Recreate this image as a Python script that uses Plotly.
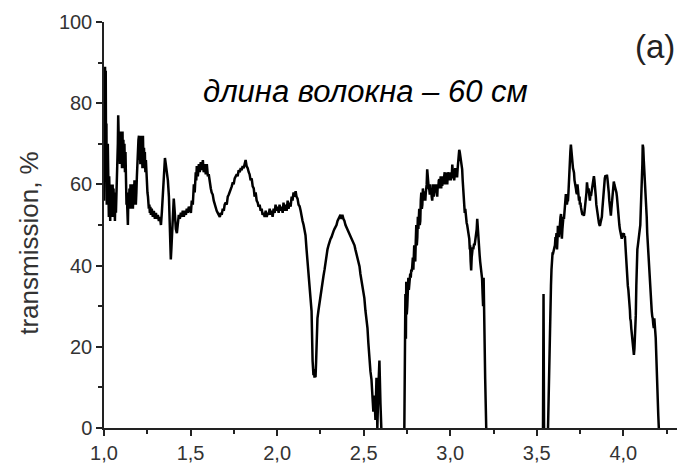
import plotly.graph_objects as go

# Transmission spectrum of a 60 cm fibre, split into the bands where the
# signal is above zero. Energy in eV, transmission in %.
band1_energy = [
    1.000, 1.002, 1.004, 1.006, 1.008, 1.010, 1.012, 1.014, 1.016, 1.018,
    1.020, 1.022, 1.024, 1.026, 1.028, 1.030, 1.032, 1.034, 1.036, 1.038,
    1.040, 1.042, 1.044, 1.046, 1.048, 1.050, 1.052, 1.055, 1.058, 1.060,
    1.063, 1.066, 1.069, 1.072, 1.075, 1.078, 1.080, 1.082, 1.084, 1.086,
    1.088, 1.090, 1.092, 1.095, 1.098, 1.101, 1.104, 1.107, 1.109, 1.112,
    1.115, 1.118, 1.121, 1.124, 1.127, 1.130, 1.133, 1.136, 1.138, 1.141,
    1.144, 1.147, 1.150, 1.153, 1.156, 1.159, 1.161, 1.164, 1.167, 1.170,
    1.173, 1.176, 1.179, 1.182, 1.184, 1.187, 1.190, 1.193, 1.196, 1.199,
    1.202, 1.204, 1.207, 1.210, 1.213, 1.216, 1.219, 1.222, 1.225, 1.228,
    1.231, 1.234, 1.236, 1.239, 1.242, 1.245, 1.248, 1.251, 1.254, 1.257,
    1.259, 1.262, 1.265, 1.268, 1.271, 1.276, 1.282, 1.288, 1.294, 1.300,
    1.305, 1.311, 1.317, 1.323, 1.329, 1.334, 1.340, 1.346, 1.352, 1.357,
    1.363, 1.369, 1.375, 1.380, 1.383, 1.386, 1.389, 1.392, 1.398, 1.403,
    1.409, 1.415, 1.421, 1.427, 1.432, 1.438, 1.444, 1.450, 1.455, 1.461,
    1.467, 1.473, 1.478, 1.484, 1.490, 1.496, 1.502, 1.507, 1.513, 1.519,
    1.524, 1.530, 1.533, 1.536, 1.542, 1.548, 1.553, 1.559, 1.565, 1.571,
    1.576, 1.582, 1.588, 1.594, 1.600, 1.605, 1.611, 1.617, 1.622, 1.628,
    1.634, 1.640, 1.646, 1.651, 1.657, 1.663, 1.669, 1.675, 1.680, 1.686,
    1.692, 1.697, 1.703, 1.709, 1.715, 1.721, 1.726, 1.732, 1.738, 1.744,
    1.749, 1.755, 1.761, 1.767, 1.772, 1.778, 1.784, 1.790, 1.795, 1.801,
    1.807, 1.813, 1.818, 1.824, 1.830, 1.836, 1.841, 1.847, 1.853, 1.859,
    1.865, 1.870, 1.876, 1.882, 1.888, 1.893, 1.899, 1.905, 1.911, 1.916,
    1.922, 1.928, 1.934, 1.940, 1.945, 1.951, 1.957, 1.963, 1.968, 1.974,
    1.980, 1.986, 1.991, 1.997, 2.003, 2.009, 2.014, 2.020, 2.026, 2.032,
    2.037, 2.043, 2.049, 2.055, 2.061, 2.066, 2.072, 2.078, 2.084, 2.089,
    2.095, 2.101, 2.107, 2.112, 2.118, 2.124, 2.130, 2.136, 2.141, 2.147,
    2.153, 2.159, 2.164, 2.170, 2.176, 2.182, 2.187, 2.193, 2.199, 2.205,
    2.210, 2.213, 2.216, 2.219, 2.222, 2.225, 2.228, 2.233, 2.239, 2.245,
    2.251, 2.256, 2.262, 2.268, 2.274, 2.280, 2.285, 2.291, 2.297, 2.303,
    2.308, 2.314, 2.320, 2.326, 2.331, 2.337, 2.343, 2.349, 2.354, 2.360,
    2.366, 2.372, 2.377, 2.383, 2.389, 2.395, 2.400, 2.406, 2.412, 2.418,
    2.424, 2.429, 2.435, 2.441, 2.447, 2.452, 2.458, 2.464, 2.470, 2.476,
    2.481, 2.487, 2.493, 2.499, 2.504, 2.510, 2.516, 2.522, 2.527, 2.533,
    2.539, 2.545, 2.550, 2.556, 2.562, 2.568, 2.574, 2.579, 2.585, 2.591,
    2.597, 2.602,
]
band1_transmission = [
    56, 72, 60, 89, 62, 88, 66, 75, 55, 75,
    58, 70, 54, 65, 52, 62, 55, 60, 51, 59,
    54, 60, 52, 58, 55, 60, 52, 59, 54, 58,
    51, 57, 53, 58, 56, 62, 70, 77, 68, 74,
    66, 72, 65, 73, 66, 72, 64, 73, 65, 71,
    64, 70, 63, 68, 60, 55, 56, 51, 50, 58,
    54, 59, 55, 60, 54, 59, 55, 60, 54, 58,
    56, 61, 55, 60, 55, 58, 62, 66, 68, 71,
    72, 66, 71, 65, 72, 66, 71, 64, 72, 65,
    69, 64, 68, 63, 66, 62, 63, 58, 57, 55,
    54, 55, 53, 54.5, 52.5, 54, 52, 53.5, 51.5, 53,
    51.5, 52.5, 51, 52, 50, 53, 58, 63, 66.5, 65,
    63, 61, 57, 48, 43, 41.5, 44, 47, 52, 56.5,
    53, 49, 48, 51, 52.5, 51.5, 53, 52, 53.5, 52,
    53.5, 52.5, 54, 53, 54.5, 54, 53, 56, 55, 60,
    58, 63, 61, 64.5, 62, 65, 63, 65.5, 63.5, 66,
    63, 65, 62.5, 65, 62, 62.5, 60, 59, 58, 57.5,
    56, 55, 54, 53.5, 53, 52.5, 52, 53, 52.5, 54,
    53.5, 55, 55.5, 55, 57, 57.5, 58, 59, 59.5, 60.5,
    60, 61.5, 62, 62.5, 62, 63.5, 63, 64, 63.5, 64.5,
    64, 65, 66, 64.5, 64, 63, 62.5, 61, 61.5, 59.5,
    59, 57, 58, 56, 55.5, 54.5, 55, 53.5, 54, 52.5,
    53, 52, 53.5, 52, 53, 52.5, 54, 52.5, 53.5, 52,
    54, 53, 55, 53.5, 54.5, 53, 55, 53.5, 54.5, 53,
    55.5, 53.5, 55, 53.5, 56, 54, 55.5, 54.5, 57, 56,
    58, 57, 58.3, 57, 56.5, 55, 54.6, 53.5, 52, 51,
    50, 49, 47.5, 44, 41, 38, 35, 32, 28.8, 16.5,
    13, 14.5, 12.4, 14, 12.5, 16, 20, 27, 29, 31,
    32.5, 34, 36, 37.5, 39, 41, 42.5, 44, 45, 46,
    46.5, 47, 48, 48.5, 49, 49.5, 50, 51, 51.5, 52,
    52.5, 51.5, 52.5, 51.5, 51, 50, 49.5, 49, 48.5, 47.8,
    47, 46.5, 46, 45.5, 45, 44, 43, 42, 41, 39.8,
    38, 36.5, 35, 33.5, 32, 29, 27, 24.6, 21, 17,
    14, 12, 9, 4, 8, 2, 12.4, 0, 10, 16.6,
    6, 0,
]

band2_energy = [
    2.735, 2.738, 2.741, 2.744, 2.746, 2.749, 2.752, 2.755, 2.758, 2.761,
    2.764, 2.767, 2.769, 2.772, 2.775, 2.778, 2.781, 2.784, 2.787, 2.790,
    2.792, 2.795, 2.798, 2.801, 2.804, 2.807, 2.810, 2.813, 2.816, 2.818,
    2.821, 2.824, 2.827, 2.830, 2.833, 2.836, 2.839, 2.842, 2.844, 2.847,
    2.850, 2.853, 2.856, 2.859, 2.862, 2.864, 2.867, 2.870, 2.873, 2.876,
    2.879, 2.882, 2.885, 2.887, 2.890, 2.893, 2.896, 2.899, 2.902, 2.905,
    2.908, 2.911, 2.913, 2.916, 2.919, 2.922, 2.925, 2.928, 2.931, 2.934,
    2.937, 2.940, 2.942, 2.945, 2.948, 2.951, 2.954, 2.957, 2.960, 2.963,
    2.965, 2.968, 2.971, 2.974, 2.977, 2.980, 2.983, 2.986, 2.988, 2.991,
    2.994, 2.997, 3.000, 3.003, 3.006, 3.009, 3.012, 3.014, 3.017, 3.020,
    3.023, 3.026, 3.029, 3.032, 3.035, 3.038, 3.040, 3.043, 3.046, 3.049,
    3.052, 3.055, 3.058, 3.061, 3.064, 3.066, 3.069, 3.072, 3.075, 3.078,
    3.081, 3.084, 3.087, 3.090, 3.092, 3.095, 3.098, 3.101, 3.104, 3.107,
    3.110, 3.113, 3.115, 3.118, 3.121, 3.124, 3.127, 3.130, 3.133, 3.136,
    3.138, 3.141, 3.144, 3.147, 3.150, 3.153, 3.156, 3.159, 3.161, 3.164,
    3.167, 3.170, 3.173, 3.176, 3.179, 3.182, 3.184, 3.187, 3.190, 3.193,
    3.196, 3.199, 3.202, 3.205, 3.208,
]
band2_transmission = [
    0, 16.6, 33, 22, 36, 28, 30, 35, 37, 34,
    36.3, 38, 38, 37, 39, 38.5, 40, 42, 39, 43,
    45, 42, 41, 46, 50, 45, 47, 52, 49, 51,
    54, 50, 51, 56, 58, 54, 55, 59, 57, 56,
    58.3, 57, 56, 58, 59, 60, 63.7, 61, 60, 59,
    58.8, 57.5, 60, 58, 59, 57, 56, 58, 60, 57,
    58, 60, 58, 60, 59.3, 58, 57, 60, 59, 61,
    61.2, 59, 60, 62, 59, 61, 59.6, 62, 60, 61,
    61, 63, 60, 62, 62.9, 61, 60, 63, 62, 61,
    61, 63, 62, 61, 63, 62, 64.9, 63, 61.5, 62,
    61, 62.5, 64, 62, 63, 62, 62, 64, 66, 67.5,
    68.5, 68, 67, 66, 65, 64.5, 63.7, 61, 59, 57,
    54.7, 53, 54, 52, 52.3, 50.5, 50, 49, 48, 47.5,
    46.6, 44, 45, 41, 38.8, 42, 43, 44.5, 44, 45,
    45.4, 45, 46, 46.5, 47, 49, 51.5, 49, 48, 46,
    44, 42.5, 41, 39.5, 38, 37, 36.8, 33, 30, 37,
    23, 28, 12, 6, 0,
]

band3_energy = [3.536, 3.539, 3.542]
band3_transmission = [0, 33, 0]

band4_energy = [
    3.565, 3.568, 3.571, 3.574, 3.576, 3.579, 3.582, 3.585, 3.588, 3.591,
    3.594, 3.597, 3.599, 3.602, 3.605, 3.608, 3.611, 3.614, 3.617, 3.620,
    3.622, 3.625, 3.628, 3.631, 3.634, 3.637, 3.640, 3.643, 3.645, 3.648,
    3.651, 3.654, 3.657, 3.660, 3.663, 3.665, 3.668, 3.671, 3.674, 3.677,
    3.680, 3.683, 3.686, 3.689, 3.692, 3.694, 3.697, 3.700, 3.703, 3.706,
    3.709, 3.712, 3.715, 3.718, 3.720, 3.723, 3.726, 3.729, 3.732, 3.735,
    3.738, 3.741, 3.744, 3.747, 3.749, 3.752, 3.755, 3.758, 3.761, 3.764,
    3.767, 3.770, 3.772, 3.775, 3.778, 3.781, 3.784, 3.787, 3.790, 3.793,
    3.796, 3.799, 3.801, 3.804, 3.807, 3.810, 3.813, 3.816, 3.819, 3.822,
    3.824, 3.827, 3.830, 3.833, 3.836, 3.839, 3.841, 3.844, 3.847, 3.850,
    3.853, 3.856, 3.859, 3.862, 3.865, 3.868, 3.870, 3.873, 3.876, 3.879,
    3.882, 3.885, 3.888, 3.891, 3.893, 3.896, 3.899, 3.902, 3.905, 3.908,
    3.911, 3.914, 3.916, 3.919, 3.922, 3.925, 3.928, 3.931, 3.934, 3.937,
    3.940, 3.942, 3.945, 3.948, 3.951, 3.954, 3.957, 3.960, 3.963, 3.966,
    3.968, 3.971, 3.974, 3.977, 3.980, 3.983, 3.986, 3.989, 3.991, 3.994,
    3.997, 4.000, 4.003, 4.006, 4.009, 4.012, 4.014, 4.017, 4.020, 4.023,
    4.026, 4.029, 4.032, 4.035, 4.038, 4.040, 4.043, 4.046, 4.049, 4.052,
    4.055, 4.058, 4.061, 4.064, 4.066, 4.069, 4.072, 4.075, 4.078, 4.081,
    4.084, 4.087, 4.089, 4.092, 4.095, 4.098, 4.101, 4.104, 4.107, 4.110,
    4.112, 4.115, 4.118, 4.121, 4.124, 4.127, 4.130, 4.133, 4.135, 4.138,
    4.141, 4.144, 4.147, 4.150, 4.153, 4.156, 4.159, 4.161, 4.164, 4.167,
    4.170, 4.173, 4.176, 4.179, 4.182, 4.184, 4.187, 4.190, 4.193, 4.196,
    4.199, 4.202, 4.205,
]
band4_transmission = [
    0, 8, 15, 24, 30, 33, 35, 39, 42.5, 43,
    43, 44, 43.4, 44.5, 45, 47, 46.6, 48, 44, 47,
    49.8, 49, 47, 50, 51, 52, 52.7, 50, 46.6, 49,
    50, 52, 51.5, 54, 56, 57, 57.6, 56, 55, 56,
    55.9, 58, 62, 64, 66, 68, 69.8, 68, 66, 65,
    64, 63.5, 62.9, 61, 60, 60.5, 59, 58, 57.6, 60,
    59, 58, 56, 57, 55, 55.5, 54.4, 54, 53, 52.5,
    53, 52.5, 52.3, 53, 54, 55, 56, 58, 60.5, 59,
    58, 59, 58, 57, 56, 57.5, 57.1, 58, 59, 60,
    60, 61, 62, 61, 60, 58, 57, 55, 53.9, 53,
    52, 51, 50.5, 50, 49.8, 50.5, 51, 51.5, 52, 54,
    55.9, 58, 60.5, 61, 61.5, 62, 62, 61.5, 62.4, 61.5,
    60.5, 59.5, 58, 56, 54, 53, 52.3, 54, 56, 58,
    59, 60, 60.7, 60, 59.5, 59, 58.8, 58, 57, 55,
    54, 52.5, 51.5, 50, 49, 48.5, 48, 47, 46.6, 47.5,
    48, 47.5, 48, 47, 47.3, 45, 43, 40.5, 38.5, 36.5,
    35, 34, 32.7, 31.5, 29, 27, 26.3, 24.5, 23, 21,
    20, 19, 18, 19.5, 21, 24, 27.8, 35, 42.4, 44,
    45, 46, 47, 47.5, 48.2, 50, 54, 57, 61.2, 65,
    69.8, 69, 66, 63.5, 61.5, 60.5, 59.5, 56, 52, 48,
    45.5, 43, 41, 38.5, 36, 34.5, 33, 31, 28.8, 27.5,
    27, 25.5, 24.6, 27, 26, 24, 22.2, 17, 12.4, 9,
    6, 3, 0,
]

x_tick_values = [1.0, 1.5, 2.0, 2.5, 3.0, 3.5, 4.0]
y_tick_values = [0, 20, 40, 60, 80, 100]

bands = [
    (band1_energy, band1_transmission),
    (band2_energy, band2_transmission),
    (band3_energy, band3_transmission),
    (band4_energy, band4_transmission),
]

# Join the bands into one trace; None breaks the line where the signal is zero.
energy, transmission = [], []
for xs, ys in bands:
    assert len(xs) == len(ys)
    energy += xs + [None]
    transmission += ys + [None]

axis_color = "#222222"
label_color = "#333333"
font_family = "Liberation Sans, Arial, sans-serif"

fig = go.Figure(
    go.Scatter(
        x=energy,
        y=transmission,
        mode="lines",
        line=dict(color="black", width=2.5),
        connectgaps=False,
        showlegend=False,
    )
)

common_axis = dict(
    showgrid=False,
    zeroline=False,
    showline=True,
    linecolor=axis_color,
    linewidth=1.5,
    ticks="outside",
    ticklen=6,
    tickwidth=1.5,
    tickcolor=axis_color,
    tickfont=dict(family=font_family, size=20, color=label_color),
)

fig.update_xaxes(
    range=[1.0, 4.31],
    tickvals=x_tick_values,
    tickformat=".1f",
    minor=dict(ticks="outside", ticklen=4, tickwidth=1.5, tickcolor=axis_color, dtick=0.25, tick0=1.0),
    **common_axis,
)

fig.update_yaxes(
    range=[0, 100],
    tickvals=y_tick_values,
    minor=dict(ticks="outside", ticklen=4, tickwidth=1.5, tickcolor=axis_color, dtick=10, tick0=0),
    **common_axis,
)

# Y-axis title
fig.add_annotation(
    text="transmission, %",
    textangle=-90,
    x=-0.130, y=0.455, xref="paper", yref="paper",
    xanchor="center", yanchor="middle",
    showarrow=False,
    font=dict(family=font_family, size=26, color=label_color),
)

fig.add_annotation(
    text="<i>длина волокна – 60 см</i>",
    x=0.457, y=0.829, xref="paper", yref="paper",
    xanchor="center", yanchor="middle",
    showarrow=False,
    font=dict(family=font_family, size=31, color="black"),
)

fig.add_annotation(
    text="(a)",
    x=1.0, y=0.939, xref="paper", yref="paper",
    xanchor="right", yanchor="middle",
    showarrow=False,
    font=dict(family=font_family, size=33, color="#222222"),
)

fig.update_layout(
    width=680,
    height=467,
    margin=dict(l=104, r=3, t=22, b=36),
    paper_bgcolor="white",
    plot_bgcolor="white",
    separators=",.",
)

fig.write_html("out.html")
